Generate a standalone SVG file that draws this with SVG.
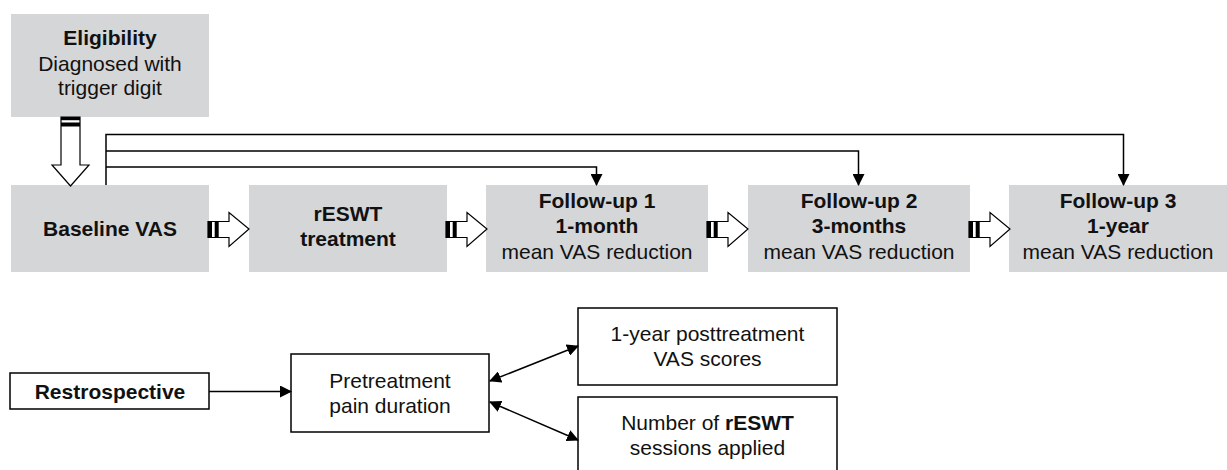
<svg xmlns="http://www.w3.org/2000/svg" width="1227" height="470" viewBox="0 0 1227 470">
<defs>
<style>
.box{fill:#d5d6d8;stroke:none}
.wbox{fill:#ffffff;stroke:#000;stroke-width:1.5}
.t{font-family:"Liberation Sans",Arial,sans-serif;font-size:21px;fill:#111;text-anchor:middle}
.b{font-weight:bold}
.ln{fill:none;stroke:#000;stroke-width:1.5}
.blk{fill:#fff;stroke:#000;stroke-width:1.2}
.bar{fill:#000}
</style>
<marker id="ah" viewBox="0 0 12 12" refX="11" refY="6" markerWidth="12" markerHeight="12" markerUnits="userSpaceOnUse" orient="auto-start-reverse">
<path d="M0,0 L12,6 L0,12 Z" fill="#000"/>
</marker>
<g id="rarrow">
<path class="blk" d="M0,-7.5 L21,-7.5 L21,-16.5 L41,0 L21,17.5 L21,8.5 L0,8.5 Z"/>
<rect class="bar" x="0" y="-7.5" width="4" height="16"/>
<rect class="bar" x="6.7" y="-7.5" width="4" height="16"/>
</g>
</defs>

<g id="eligibility">
<rect class="box" x="11" y="14" width="198" height="103"/>
<text class="t b" x="110" y="45">Eligibility</text>
<text class="t" x="110" y="71">Diagnosed with</text>
<text class="t" x="110" y="95">trigger digit</text>
</g>

<g id="baseline">
<rect class="box" x="11" y="185" width="198" height="87"/>
<text class="t b" x="110" y="236">Baseline VAS</text>
</g>

<g id="reswt">
<rect class="box" x="249" y="185" width="198" height="87"/>
<text class="t b" x="348" y="221">rESWT</text>
<text class="t b" x="348" y="246">treatment</text>
</g>

<g id="followup1">
<rect class="box" x="486" y="185" width="222" height="87"/>
<text class="t b" x="597" y="208">Follow-up 1</text>
<text class="t b" x="597" y="233">1-month</text>
<text class="t" x="597" y="259">mean VAS reduction</text>
</g>

<g id="followup2">
<rect class="box" x="748" y="185" width="222" height="87"/>
<text class="t b" x="859" y="208">Follow-up 2</text>
<text class="t b" x="859" y="233">3-months</text>
<text class="t" x="859" y="259">mean VAS reduction</text>
</g>

<g id="followup3">
<rect class="box" x="1009" y="185" width="218" height="87"/>
<text class="t b" x="1118" y="208">Follow-up 3</text>
<text class="t b" x="1118" y="233">1-year</text>
<text class="t" x="1118" y="259">mean VAS reduction</text>
</g>

<g id="retrospective">
<rect class="wbox" x="10" y="373" width="199" height="36"/>
<text class="t b" x="110" y="399">Restrospective</text>
</g>

<g id="pretreatment">
<rect class="wbox" x="291" y="354" width="198" height="78"/>
<text class="t" x="390" y="388">Pretreatment</text>
<text class="t" x="390" y="413">pain duration</text>
</g>

<g id="vas1year">
<rect class="wbox" x="578" y="308" width="259" height="77"/>
<text class="t" x="707.5" y="341">1-year posttreatment</text>
<text class="t" x="707.5" y="366">VAS scores</text>
</g>

<g id="sessions">
<rect class="wbox" x="578" y="397" width="259" height="80"/>
<text class="t" x="707.5" y="430">Number of <tspan class="b">rESWT</tspan></text>
<text class="t" x="707.5" y="455">sessions applied</text>
</g>

<g id="connectors">
<path class="blk" d="M61,117 L80,117 L80,165 L89,165 L70.5,186 L52,165 L61,165 Z"/>
<rect class="bar" x="61" y="117" width="19" height="3.2"/>
<rect class="bar" x="61" y="122.5" width="19" height="4"/>
<use href="#rarrow" x="208" y="229"/>
<use href="#rarrow" x="446" y="229"/>
<use href="#rarrow" x="707" y="229"/>
<use href="#rarrow" x="969" y="229"/>
<path class="ln" d="M106,185 L106,134.5 L1123.5,134.5 L1123.5,185" marker-end="url(#ah)"/>
<path class="ln" d="M106,151 L858.5,151 L858.5,185" marker-end="url(#ah)"/>
<path class="ln" d="M106,167 L596.5,167 L596.5,185" marker-end="url(#ah)"/>
<path class="ln" d="M209,391.5 L291,391.5" marker-end="url(#ah)"/>
<path class="ln" d="M490,381 L578,346" marker-start="url(#ah)" marker-end="url(#ah)"/>
<path class="ln" d="M490,402 L578,440" marker-start="url(#ah)" marker-end="url(#ah)"/>
</g>
</svg>
